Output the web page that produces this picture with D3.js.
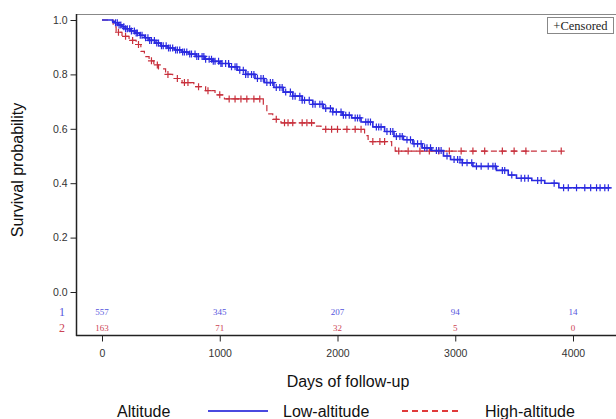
<!DOCTYPE html>
<html>
<head>
<script src="https://d3js.org/d3.v7.min.js" charset="utf-8"></script>
<style>
    body { margin: 0; background: #fff; }
</style>
</head>
<body>
<script>
    // Kaplan-Meier steps: [days, survival]
    var lowSteps = [[0,1.0],[90,0.995],[110,0.99],[140,0.982],[170,0.975],[200,0.968],[240,0.96],[280,0.952],
        [320,0.944],[360,0.935],[400,0.925],[450,0.915],[500,0.905],[560,0.897],[620,0.89],[680,0.882],
        [740,0.875],[800,0.866],[870,0.856],[940,0.848],[1000,0.84],[1080,0.828],[1150,0.815],[1220,0.8],
        [1300,0.785],[1380,0.77],[1460,0.752],[1540,0.735],[1620,0.72],[1700,0.705],[1790,0.69],[1880,0.675],
        [1960,0.662],[2040,0.65],[2120,0.64],[2200,0.625],[2300,0.607],[2400,0.59],[2480,0.572],[2560,0.56],
        [2640,0.545],[2720,0.53],[2800,0.52],[2900,0.5],[2960,0.487],[3060,0.475],[3150,0.462],[3350,0.447],
        [3450,0.43],[3520,0.418],[3650,0.41],[3760,0.4],[3880,0.383]];
    var lowEnd = 4320;
    var highSteps = [[0,1.0],[95,0.975],[120,0.955],[170,0.94],[230,0.925],[290,0.91],[330,0.885],[360,0.865],
        [400,0.85],[440,0.835],[480,0.82],[540,0.8],[600,0.785],[680,0.77],[780,0.755],[880,0.74],[960,0.725],
        [1040,0.71],[1370,0.685],[1400,0.655],[1450,0.635],[1520,0.622],[1800,0.61],[1860,0.598],[2230,0.575],
        [2260,0.553],[2460,0.535],[2490,0.518]];
    var highEnd = 3900;

    // censored times
    var lowCens = [115,130,145,160,185,200,215,235,250,275,290,300,325,340,370,390,405,420,445,465,480,505,520,
        545,565,580,600,625,640,660,685,700,720,745,760,790,805,820,850,865,880,910,930,945,960,990,1010,1020,
        1050,1075,1100,1130,1145,1170,1200,1220,1240,1270,1290,1320,1350,1370,1400,1430,1450,1480,1510,1530,
        1560,1600,1620,1640,1680,1700,1720,1760,1790,1810,1850,1870,1900,1940,1960,1990,2030,2050,2070,2100,
        2150,2170,2190,2240,2260,2280,2330,2350,2370,2420,2450,2470,2500,2530,2550,2590,2620,2650,2680,2710,
        2740,2760,2790,2840,2860,2880,2930,2990,3020,3040,3060,3100,3140,3180,3220,3280,3320,3340,3400,3420,
        3480,3560,3590,3620,3700,3730,3840,3920,3960,4030,4100,4150,4200,4230,4270,4300];
    var highCens = [140,200,260,310,420,470,560,640,700,730,820,900,1000,1080,1130,1180,1230,1290,1340,1480,
        1550,1580,1620,1700,1740,1780,1900,1950,2000,2080,2150,2200,2300,2360,2400,2520,2600,2700,2780,2860,
        2950,3050,3150,3250,3400,3500,3600,3900];

    var riskTimes = [0, 1000, 2000, 3000, 4000];
    var lowRisk = [557, 345, 207, 94, 14];
    var highRisk = [163, 71, 32, 5, 0];
    var xTicks = [0, 1000, 2000, 3000, 4000];
    var yTicks = [0.0, 0.2, 0.4, 0.6, 0.8, 1.0];

    var wid = 616, h = 419;
    var blue = "#2a2ae0", red = "#c8303c";
    var sans = "'Liberation Sans', Arial, sans-serif";
    var serif = "'Liberation Serif', 'Times New Roman', serif";

    var svg = d3.select("body").append("svg")
        .attr("width", wid).attr("height", h)
        .style("font-family", sans);

    var x = d3.scaleLinear().domain([0, 4000]).range([102, 573]);
    var y = d3.scaleLinear().domain([0, 1]).range([292, 20]);

    svg.append("defs").append("clipPath").attr("id", "clip")
        .append("rect").attr("x", 76).attr("y", 14).attr("width", 540).attr("height", 321);

    // frame
    svg.append("line").attr("x1", 76).attr("x2", 616).attr("y1", 14.5).attr("y2", 14.5)
        .attr("stroke", "#888");

    // y axis
    var yAxis = d3.axisLeft(y).tickValues(yTicks).tickFormat(d3.format(".1f")).tickSize(6).tickSizeOuter(0);
    var gy = svg.append("g").attr("transform", "translate(76.5,0)").call(yAxis);
    gy.select(".domain").remove();
    svg.append("line").attr("x1", 76.5).attr("x2", 76.5).attr("y1", 14).attr("y2", 336)
        .attr("stroke", "#222").attr("stroke-width", 1.5);

    // x axis
    var xAxis = d3.axisBottom(x).tickValues(xTicks).tickFormat(d3.format("d")).tickSize(6).tickSizeOuter(0);
    var gx = svg.append("g").attr("transform", "translate(0,335.5)").call(xAxis);
    gx.select(".domain").remove();
    svg.append("line").attr("x1", 76).attr("x2", 616).attr("y1", 335.5).attr("y2", 335.5)
        .attr("stroke", "#222").attr("stroke-width", 1.5);

    [gx, gy].forEach(function(g) {
        g.attr("font-family", sans);
        g.selectAll("text").attr("font-size", 10.5).attr("fill", "#333");
        g.selectAll(".tick line").attr("stroke", "#222");
    });
    gx.selectAll("text").attr("dy", "1.2em");

    // curves
    function stepPath(steps, end) {
        var pts = steps.slice();
        pts.push([end, steps[steps.length - 1][1]]);
        return d3.line().curve(d3.curveStepAfter)
            .x(function(d) { return x(d[0]); })
            .y(function(d) { return y(d[1]); })(pts);
    }
    function survAt(steps, t) {
        var s = 1;
        for (var i = 0; i < steps.length; i++) { if (steps[i][0] <= t) s = steps[i][1]; }
        return s;
    }

    var plot = svg.append("g").attr("clip-path", "url(#clip)");

    function drawGroup(steps, end, cens, color, dash, sw) {
        plot.append("path").attr("d", stepPath(steps, end))
            .attr("fill", "none").attr("stroke", color).attr("stroke-width", sw)
            .attr("stroke-dasharray", dash);
        plot.selectAll(null).data(cens).enter().append("path")
            .attr("d", function(t) {
                var cx = x(t), cy = y(survAt(steps, t));
                return "M" + (cx - 3.5) + "," + cy + "H" + (cx + 3.5) + "M" + cx + "," + (cy - 3.5) + "V" + (cy + 3.5);
            })
            .attr("stroke", color).attr("stroke-width", 1.2).attr("fill", "none");
    }
    drawGroup(highSteps, highEnd, highCens, red, "6,4", 1.2);
    drawGroup(lowSteps, lowEnd, lowCens, blue, null, 1.6);

    // censored legend box
    svg.append("rect").attr("x", 547.5).attr("y", 17.5).attr("width", 66).attr("height", 16)
        .attr("fill", "#fff").attr("stroke", "#888");
    svg.append("text").attr("x", 580.5).attr("y", 30).attr("text-anchor", "middle")
        .style("font-family", serif).attr("font-size", 12.5).attr("fill", "#222")
        .text("+Censored");

    // number at risk
    svg.append("text").attr("x", 62).attr("y", 316).attr("text-anchor", "middle")
        .style("font-family", serif).attr("font-size", 12).attr("fill", "#5555dd").text("1");
    svg.append("text").attr("x", 62).attr("y", 332).attr("text-anchor", "middle")
        .style("font-family", serif).attr("font-size", 12).attr("fill", "#cc4455").text("2");
    svg.selectAll(null).data(riskTimes).enter().append("text")
        .attr("x", function(d) { return x(d); }).attr("y", 315).attr("text-anchor", "middle")
        .style("font-family", serif).attr("font-size", 9).attr("fill", "#5555dd")
        .text(function(d, i) { return lowRisk[i]; });
    svg.selectAll(null).data(riskTimes).enter().append("text")
        .attr("x", function(d) { return x(d); }).attr("y", 331).attr("text-anchor", "middle")
        .style("font-family", serif).attr("font-size", 9).attr("fill", "#cc4455")
        .text(function(d, i) { return highRisk[i]; });

    // axis titles
    svg.append("text").attr("x", 348).attr("y", 387).attr("text-anchor", "middle")
        .attr("font-size", 16).attr("fill", "#111").text("Days of follow-up");
    svg.append("text").attr("transform", "translate(23,170) rotate(-90)").attr("text-anchor", "middle")
        .attr("font-size", 16).attr("fill", "#111").text("Survival probability");

    // legend
    var ly = 411;
    svg.append("text").attr("x", 117).attr("y", ly + 6).attr("font-size", 16).attr("fill", "#111").text("Altitude");
    svg.append("line").attr("x1", 208).attr("x2", 268).attr("y1", ly).attr("y2", ly)
        .attr("stroke", "#4a4ae0").attr("stroke-width", 2);
    svg.append("text").attr("x", 283).attr("y", ly + 6).attr("font-size", 16).attr("fill", "#111").text("Low-altitude");
    svg.append("line").attr("x1", 402).attr("x2", 461).attr("y1", ly).attr("y2", ly)
        .attr("stroke", "#e03a3a").attr("stroke-width", 2).attr("stroke-dasharray", "6,4");
    svg.append("text").attr("x", 485).attr("y", ly + 6).attr("font-size", 16).attr("fill", "#111").text("High-altitude");
</script>
</body>
</html>
